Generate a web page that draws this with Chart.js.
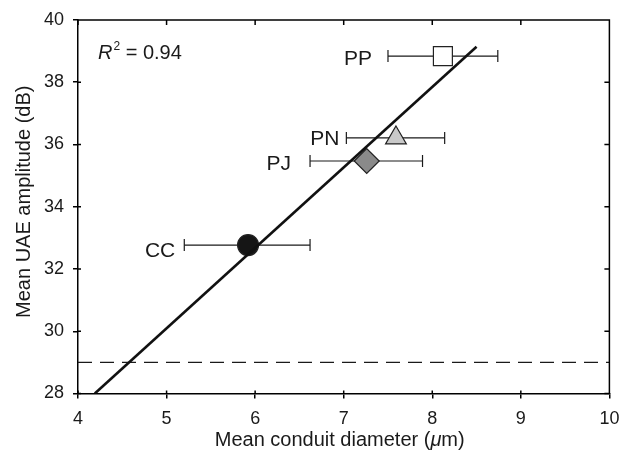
<!DOCTYPE html>
<html><head><meta charset="utf-8">
<script src="https://cdn.jsdelivr.net/npm/chart.js@4.4.0/dist/chart.umd.min.js"></script>
<style>html,body{margin:0;padding:0;background:#fff}#wrap{width:624px;height:455px}</style>
</head><body><div id="wrap"><canvas id="c" width="624" height="455"></canvas></div>
<script>
// ---- data ----
const groups = ['PP', 'PN', 'PJ', 'CC'];
const meanDiameter = [8.12, 7.59, 7.26, 5.92];
const meanAmplitude = [38.84, 36.21, 35.47, 32.77];
const diameterLow = [7.50, 7.03, 6.62, 5.20];
const diameterHigh = [8.74, 8.14, 7.89, 6.62];
const fitX = [4.19, 8.50];
const fitY = [28.0, 39.14];
const thresholdX = [4, 10];
const thresholdY = 29;
const xTicks = [4, 5, 6, 7, 8, 9, 10];
const yTicks = [28, 30, 32, 34, 36, 38, 40];
const rSquared = '0.94';

const FONT = '"Liberation Sans", Arial, sans-serif';
const INK = '#1a1a1a';

const datasets = [];
// error bars
groups.forEach((g, i) => {
  datasets.push({
    type: 'line', label: g + ' err',
    data: [{x: diameterLow[i], y: meanAmplitude[i]}, {x: diameterHigh[i], y: meanAmplitude[i]}],
    borderColor: INK, borderWidth: 1.2, pointStyle: 'line', pointRotation: 90,
    pointRadius: 6, pointBorderWidth: 1.2, pointBorderColor: INK, fill: false, order: 3
  });
});
// threshold
datasets.push({
  type: 'line', label: 'threshold',
  data: thresholdX.map(x => ({x, y: thresholdY})),
  borderColor: INK, borderWidth: 1.4, borderDash: [14, 8], pointRadius: 0, order: 4
});
// markers
datasets.push({
  type: 'scatter', label: 'means',
  data: groups.map((g, i) => ({x: meanDiameter[i], y: meanAmplitude[i]})),
  pointStyle: ['rect', 'triangle', 'rectRot', 'circle'],
  pointRadius: [13.4, 12, 12.5, 10.5],
  pointBackgroundColor: ['#ffffff', '#c9c9c9', '#8a8a8a', '#151515'],
  pointBorderColor: '#222', pointBorderWidth: 1.2, order: 1
});
// regression
datasets.push({
  type: 'line', label: 'fit',
  data: fitX.map((x, i) => ({x, y: fitY[i]})),
  borderColor: '#111', borderWidth: 2.6, pointRadius: 0, order: 0
});

const labelGap = [16, 7, 19, 9];
const labelDy = [9, 7, 9.5, 12];

const decor = {
  id: 'decor',
  afterDraw(chart) {
    const ctx = chart.ctx, a = chart.chartArea;
    const xs = chart.scales.x, ys = chart.scales.y;
    ctx.save();
    ctx.strokeStyle = '#000'; ctx.lineWidth = 1.5;
    ctx.beginPath();
    ctx.moveTo(a.left, a.top); ctx.lineTo(a.right, a.top); ctx.lineTo(a.right, a.bottom);
    xTicks.forEach(v => { const px = xs.getPixelForValue(v);
      ctx.moveTo(px, a.top); ctx.lineTo(px, a.top + 5);
      ctx.moveTo(px, a.bottom); ctx.lineTo(px, a.bottom - 3); });
    yTicks.forEach(v => { const py = ys.getPixelForValue(v);
      ctx.moveTo(a.right, py); ctx.lineTo(a.right - 5, py);
      ctx.moveTo(a.left, py); ctx.lineTo(a.left + 3, py); });
    ctx.stroke();

    ctx.fillStyle = INK;
    // group labels
    ctx.font = '21px ' + FONT; ctx.textAlign = 'right'; ctx.textBaseline = 'alphabetic';
    groups.forEach((g, i) => {
      const px = xs.getPixelForValue(diameterLow[i]) - labelGap[i];
      const py = ys.getPixelForValue(meanAmplitude[i]) + labelDy[i];
      ctx.fillText(g, px, py);
    });
    // R^2
    ctx.textAlign = 'left';
    let x0 = a.left + 20, yb = a.top + 39;
    ctx.font = 'italic 20px ' + FONT; ctx.fillText('R', x0, yb);
    x0 += ctx.measureText('R').width + 1;
    ctx.font = '12px ' + FONT; ctx.fillText('2', x0, yb - 9);
    x0 += ctx.measureText('2').width;
    ctx.font = '20px ' + FONT; ctx.fillText(' = ' + rSquared, x0, yb);

    // x title with italic mu
    const parts = [['Mean conduit diameter (', '20px '], ['\u03bc', 'italic 20px '], ['m)', '20px ']];
    let tw = 0;
    parts.forEach(p => { ctx.font = p[1] + FONT; tw += ctx.measureText(p[0]).width; });
    let tx = (a.left + a.right) / 2 - 4 - tw / 2;
    parts.forEach(p => { ctx.font = p[1] + FONT; ctx.fillText(p[0], tx, 446); tx += ctx.measureText(p[0]).width; });
    // y title
    ctx.translate(30, (a.top + a.bottom) / 2 - 5);
    ctx.rotate(-Math.PI / 2);
    ctx.font = '20px ' + FONT; ctx.textAlign = 'center';
    ctx.fillText('Mean UAE amplitude (dB)', 0, 0);
    ctx.restore();
  }
};

new Chart(document.getElementById('c'), {
  data: { datasets },
  options: {
    responsive: false, devicePixelRatio: 1, animation: false,
    layout: { padding: { left: 0, right: 13, top: 20, bottom: 0 } },
    plugins: { legend: { display: false }, tooltip: { enabled: false } },
    scales: {
      x: {
        type: 'linear', min: 4, max: 10,
        afterBuildTicks: s => { s.ticks = xTicks.map(v => ({value: v})); },
        afterFit: s => { s.height = 61.5; s.paddingRight = 0; s.paddingLeft = 0; },
        ticks: { color: INK, font: { family: FONT, size: 18 }, padding: 10, maxRotation: 0 },
        grid: { drawOnChartArea: false, drawTicks: true, tickLength: 5, color: '#000', lineWidth: 1.5 },
        border: { display: true, color: '#000', width: 1.5 }
      },
      y: {
        type: 'linear', min: 28, max: 40,
        afterBuildTicks: s => { s.ticks = yTicks.map(v => ({value: v})); },
        afterFit: s => { s.width = 78; s.paddingTop = 0; s.paddingBottom = 0; },
        ticks: { color: INK, font: { family: FONT, size: 18 }, padding: 9 },
        grid: { drawOnChartArea: false, drawTicks: true, tickLength: 5, color: '#000', lineWidth: 1.5 },
        border: { display: true, color: '#000', width: 1.5 }
      }
    }
  },
  plugins: [decor]
});
</script>
</body></html>
